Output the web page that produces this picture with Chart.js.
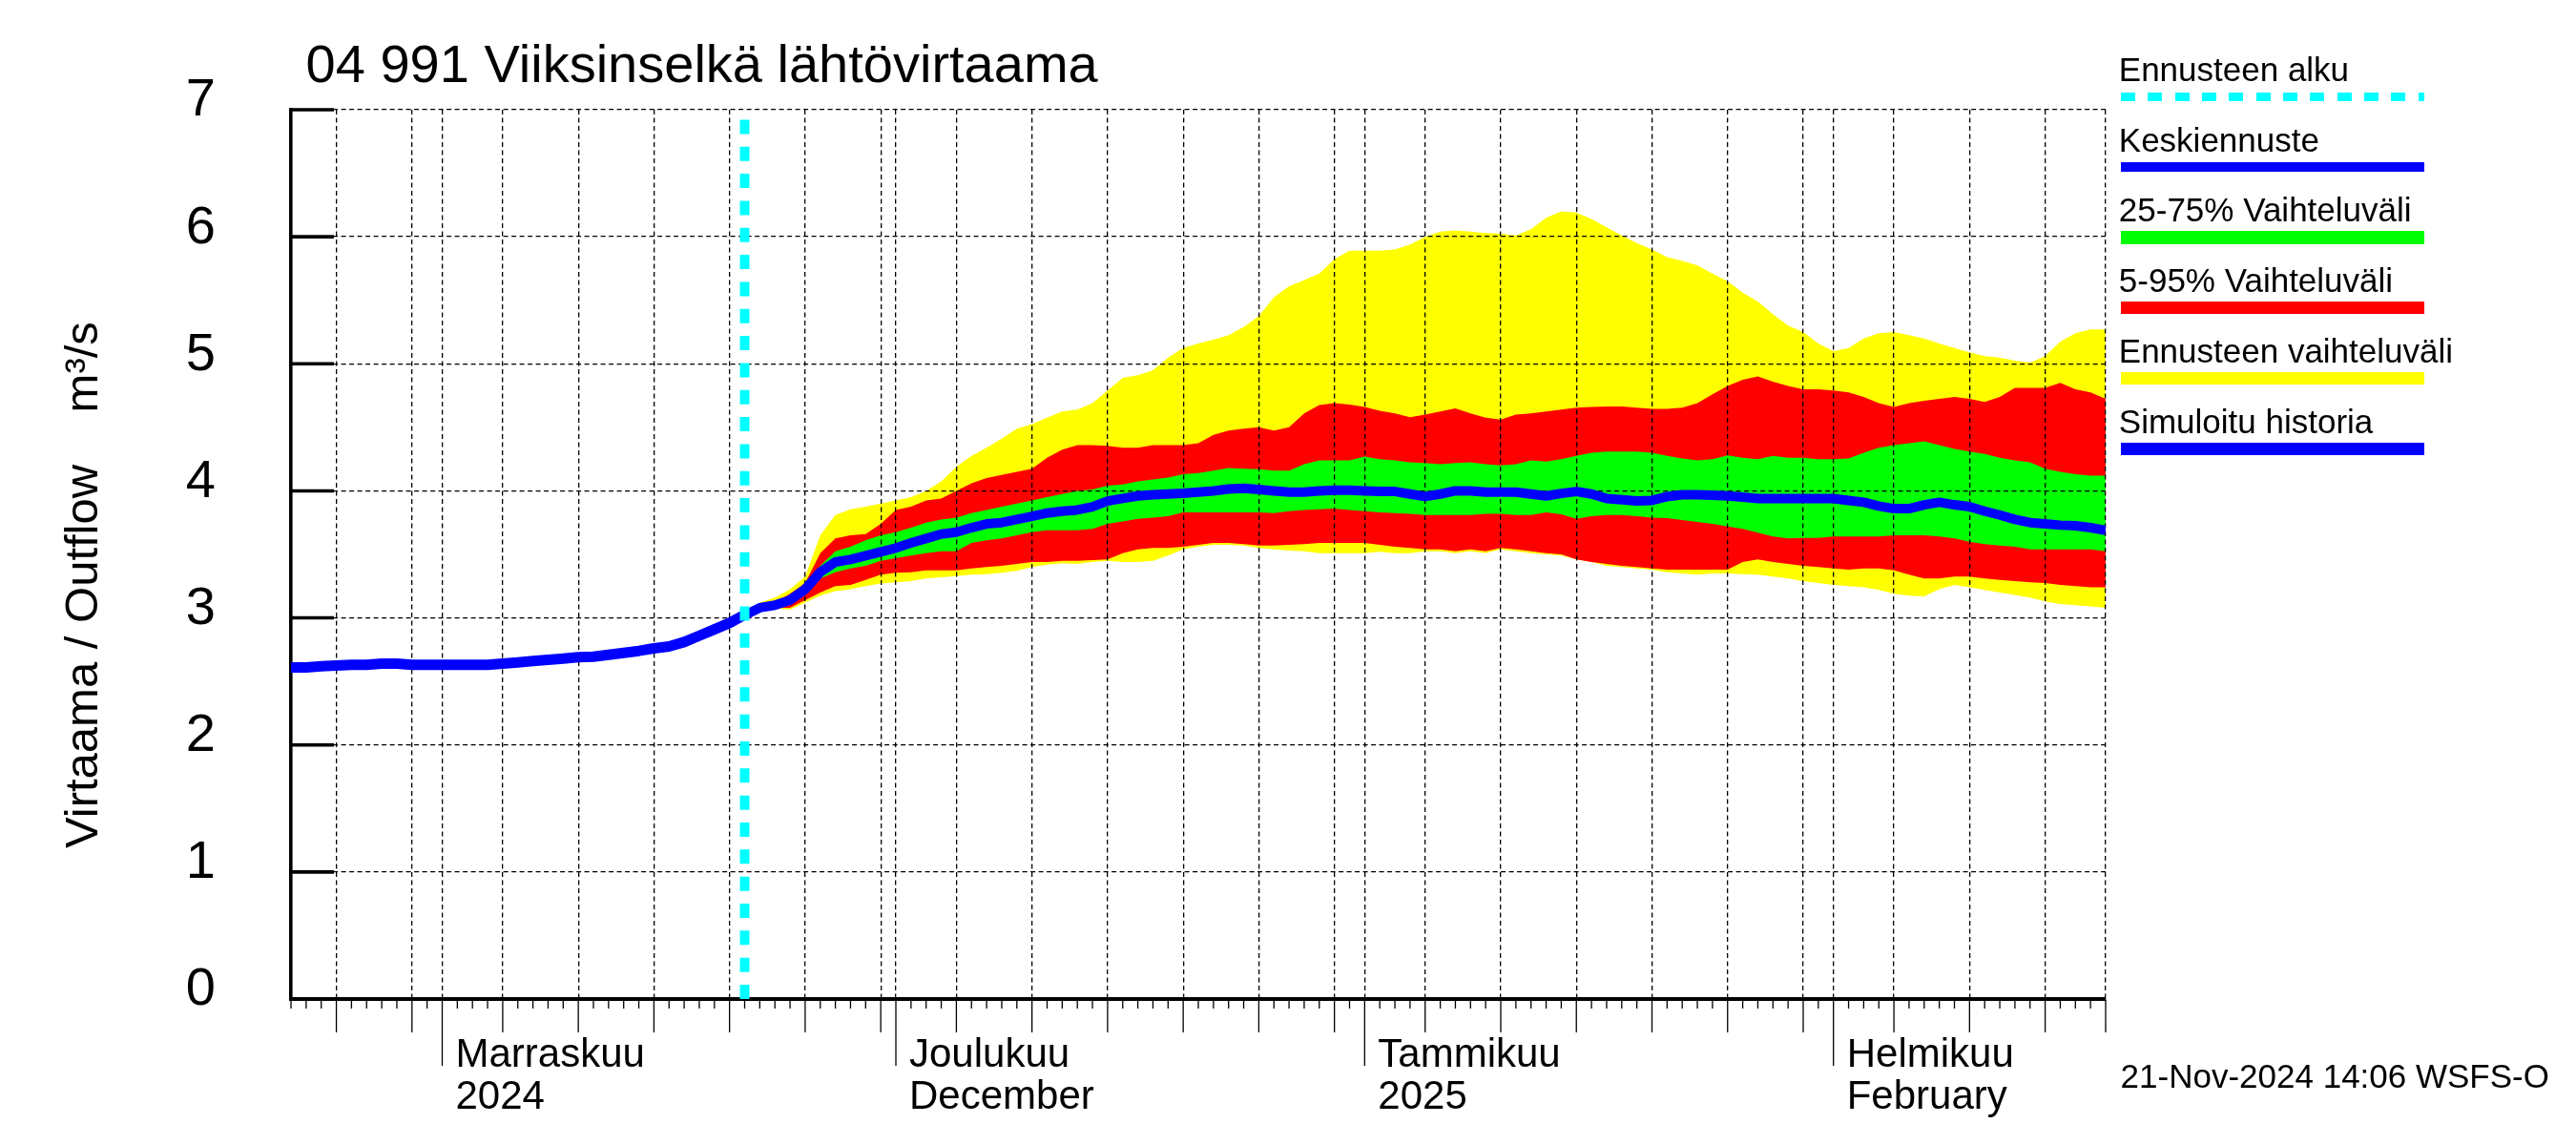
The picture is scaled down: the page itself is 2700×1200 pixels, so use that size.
<!DOCTYPE html>
<html>
<head>
<meta charset="utf-8">
<script src="https://cdn.jsdelivr.net/npm/chart.js@4.4.1/dist/chart.umd.min.js"></script>
<style>
html,body{margin:0;padding:0;background:#fff;}
#wrap{position:relative;width:2700px;height:1200px;overflow:hidden;font-family:"Liberation Sans",Arial,Helvetica,sans-serif;color:#000;background:#fff;}
#c{position:absolute;left:0;top:0;width:2700px;height:1200px;}
.t{position:absolute;white-space:pre;line-height:1;}
.lg{position:absolute;}
</style>
</head>
<body>
<div id="wrap">
<canvas id="c" width="2700" height="1200"></canvas>
</div>
<script>
// ---------------- DATA ----------------
const chartTitle = "04 991 Viiksinselkä lähtövirtaama";
const yAxisTitle = "Virtaama / Outflow    m³/s";
const footerText = "21-Nov-2024 14:06 WSFS-O";

// x axis: day number counted from 22-Oct-2024 (day 0) to 19-Feb-2025 (day 120)
const xMin = 0;
const xMax = 120;
const forecastStartDay = 30; // 21-Nov-2024
const gridDays = [3, 8, 10, 14, 19, 24, 29, 34, 39, 40, 44, 49, 54, 59, 64, 69, 71, 75, 80, 85, 90, 95, 100, 102, 106, 111, 116, 120];
const monthTickDays = [10, 40, 71, 102];
const monthTickLabels = [["Marraskuu", "2024"], ["Joulukuu", "December"], ["Tammikuu", "2025"], ["Helmikuu", "February"]];
const yTicks = [0, 1, 2, 3, 4, 5, 6, 7];

// simulated history, daily from day 0 to day 30
const histFlow = [2.61, 2.61, 2.62, 2.625, 2.63, 2.63, 2.64, 2.64, 2.63, 2.63, 2.63, 2.63, 2.63, 2.63, 2.64, 2.65, 2.66, 2.67, 2.68, 2.69, 2.695, 2.71, 2.725, 2.74, 2.76, 2.775, 2.81, 2.86, 2.91, 2.96, 3.025];

// forecast, daily from day 30 to day 120
const fcMax = [3.03, 3.12, 3.16, 3.225, 3.325, 3.65, 3.81, 3.855, 3.875, 3.9,
  3.925, 3.95, 4.0, 4.075, 4.19, 4.275, 4.34, 4.41, 4.49, 4.525,
  4.575, 4.625, 4.64, 4.69, 4.79, 4.89, 4.91, 4.95, 5.05, 5.125,
  5.16, 5.19, 5.225, 5.29, 5.375, 5.525, 5.61, 5.66, 5.71, 5.825,
  5.89, 5.89, 5.89, 5.9, 5.94, 6.0, 6.04, 6.05, 6.04, 6.03,
  6.025, 6.01, 6.06, 6.15, 6.2, 6.19, 6.14, 6.075, 6.01, 5.95,
  5.9, 5.84, 5.81, 5.775, 5.71, 5.65, 5.56, 5.49, 5.39, 5.3,
  5.25, 5.16, 5.1, 5.125, 5.2, 5.24, 5.25, 5.225, 5.2, 5.16,
  5.125, 5.09, 5.06, 5.05, 5.025, 5.01, 5.06, 5.175, 5.24, 5.27, 5.27];
const fcP95 = [3.03, 3.09, 3.12, 3.19, 3.275, 3.51, 3.625, 3.65, 3.66, 3.74,
  3.85, 3.875, 3.925, 3.94, 4.0, 4.06, 4.1, 4.125, 4.15, 4.175,
  4.26, 4.325, 4.36, 4.36, 4.355, 4.34, 4.34, 4.36, 4.36, 4.36,
  4.375, 4.44, 4.475, 4.49, 4.5, 4.475, 4.5, 4.61, 4.675, 4.69,
  4.68, 4.66, 4.63, 4.61, 4.58, 4.6, 4.625, 4.65, 4.61, 4.575,
  4.56, 4.6, 4.61, 4.625, 4.64, 4.655, 4.66, 4.665, 4.665, 4.655,
  4.645, 4.645, 4.655, 4.69, 4.76, 4.825, 4.875, 4.9, 4.86, 4.825,
  4.8, 4.8, 4.79, 4.775, 4.74, 4.69, 4.66, 4.69, 4.71, 4.725,
  4.74, 4.725, 4.7, 4.74, 4.81, 4.81, 4.81, 4.85, 4.8, 4.775, 4.725];
const fcP75 = [3.025, 3.085, 3.11, 3.16, 3.24, 3.41, 3.525, 3.56, 3.61, 3.65,
  3.675, 3.71, 3.75, 3.775, 3.79, 3.825, 3.85, 3.875, 3.9, 3.925,
  3.95, 3.975, 4.0, 4.01, 4.04, 4.05, 4.075, 4.09, 4.105, 4.13,
  4.14, 4.16, 4.18, 4.175, 4.17, 4.16, 4.16, 4.21, 4.24, 4.24,
  4.24, 4.27, 4.25, 4.24, 4.225, 4.22, 4.21, 4.22, 4.225, 4.21,
  4.2, 4.21, 4.24, 4.23, 4.25, 4.275, 4.3, 4.31, 4.31, 4.31,
  4.3, 4.275, 4.255, 4.24, 4.25, 4.28, 4.26, 4.25, 4.275, 4.26,
  4.26, 4.25, 4.25, 4.255, 4.3, 4.34, 4.36, 4.375, 4.39, 4.36,
  4.33, 4.31, 4.29, 4.26, 4.24, 4.225, 4.175, 4.15, 4.13, 4.12, 4.12];
const fcMean = [3.02, 3.08, 3.10, 3.14, 3.225, 3.36, 3.44, 3.46, 3.49, 3.52,
  3.55, 3.59, 3.625, 3.66, 3.675, 3.71, 3.74, 3.75, 3.775, 3.8,
  3.825, 3.84, 3.85, 3.875, 3.92, 3.94, 3.96, 3.97, 3.975, 3.98,
  3.99, 4.0, 4.015, 4.02, 4.01, 4.0, 3.99, 3.99, 4.0, 4.005,
  4.005, 4.0, 3.995, 3.995, 3.975, 3.955, 3.975, 4.0, 4.0, 3.99,
  3.99, 3.99, 3.975, 3.96, 3.98, 3.995, 3.975, 3.94, 3.93, 3.92,
  3.925, 3.955, 3.97, 3.97, 3.965, 3.96, 3.95, 3.94, 3.94, 3.94,
  3.94, 3.94, 3.94, 3.925, 3.91, 3.88, 3.86, 3.86, 3.89, 3.91,
  3.89, 3.875, 3.84, 3.81, 3.775, 3.75, 3.74, 3.73, 3.725, 3.71, 3.69];
const fcP25 = [3.015, 3.075, 3.095, 3.11, 3.2, 3.31, 3.36, 3.39, 3.41, 3.45,
  3.47, 3.49, 3.51, 3.525, 3.525, 3.59, 3.61, 3.625, 3.65, 3.675,
  3.69, 3.69, 3.69, 3.7, 3.74, 3.76, 3.78, 3.79, 3.8, 3.83,
  3.83, 3.83, 3.83, 3.83, 3.83, 3.825, 3.84, 3.85, 3.855, 3.86,
  3.85, 3.84, 3.83, 3.825, 3.82, 3.81, 3.81, 3.81, 3.81, 3.82,
  3.82, 3.81, 3.81, 3.83, 3.815, 3.78, 3.8, 3.81, 3.81, 3.8,
  3.79, 3.785, 3.77, 3.755, 3.74, 3.72, 3.7, 3.67, 3.64, 3.625,
  3.63, 3.63, 3.64, 3.64, 3.64, 3.64, 3.65, 3.65, 3.65, 3.64,
  3.625, 3.6, 3.58, 3.57, 3.56, 3.54, 3.54, 3.54, 3.54, 3.54, 3.525];
const fcP5 = [3.01, 3.07, 3.08, 3.08, 3.14, 3.2, 3.25, 3.26, 3.3, 3.34,
  3.355, 3.36, 3.375, 3.375, 3.375, 3.39, 3.4, 3.41, 3.425, 3.44,
  3.44, 3.45, 3.45, 3.455, 3.46, 3.51, 3.54, 3.55, 3.55, 3.56,
  3.575, 3.59, 3.59, 3.58, 3.57, 3.57, 3.575, 3.58, 3.59, 3.59,
  3.59, 3.59, 3.575, 3.56, 3.55, 3.54, 3.54, 3.525, 3.54, 3.525,
  3.55, 3.54, 3.525, 3.51, 3.5, 3.46, 3.44, 3.425, 3.41, 3.4,
  3.39, 3.38, 3.38, 3.38, 3.38, 3.38, 3.44, 3.46, 3.44, 3.425,
  3.41, 3.4, 3.39, 3.38, 3.39, 3.39, 3.375, 3.34, 3.31, 3.31,
  3.325, 3.325, 3.31, 3.3, 3.29, 3.28, 3.275, 3.26, 3.25, 3.24, 3.24];
const fcMin = [3.01, 3.06, 3.075, 3.065, 3.12, 3.175, 3.21, 3.225, 3.25, 3.27,
  3.28, 3.29, 3.31, 3.32, 3.33, 3.34, 3.345, 3.355, 3.37, 3.4,
  3.42, 3.43, 3.425, 3.44, 3.45, 3.44, 3.44, 3.45, 3.49, 3.54,
  3.56, 3.575, 3.575, 3.57, 3.55, 3.54, 3.53, 3.525, 3.51, 3.51,
  3.51, 3.51, 3.52, 3.51, 3.51, 3.525, 3.525, 3.51, 3.525, 3.51,
  3.54, 3.525, 3.51, 3.5, 3.49, 3.46, 3.44, 3.41, 3.4, 3.39,
  3.38, 3.36, 3.35, 3.34, 3.35, 3.35, 3.345, 3.34, 3.325, 3.31,
  3.29, 3.275, 3.26, 3.25, 3.24, 3.22, 3.19, 3.175, 3.17, 3.225,
  3.26, 3.24, 3.22, 3.2, 3.18, 3.16, 3.13, 3.11, 3.1, 3.09, 3.08];

const legendLabels = ["Ennusteen alku", "Keskiennuste", "25-75% Vaihteluväli", "5-95% Vaihteluväli", "Ennusteen vaihteluväli", "Simuloitu historia"];
const legendColors = ["#00ffff", "#0000ff", "#00ff00", "#ff0000", "#ffff00", "#0000ff"];

// ---------------- RENDER ----------------
const FONT = '"Liberation Sans", Arial, Helvetica, sans-serif';
const pts = (start, arr) => arr.map((v, i) => ({x: start + i, y: v}));
const clear = 'rgba(0,0,0,0)';

const wrap = document.getElementById('wrap');
function addText(txt, left, top, size, extra) {
  const d = document.createElement('div');
  d.className = 't';
  d.textContent = txt;
  d.style.left = left + 'px';
  d.style.top = top + 'px';
  d.style.fontSize = size + 'px';
  if (extra) Object.assign(d.style, extra);
  wrap.appendChild(d);
  return d;
}
addText(chartTitle, 320.6, 86.7 - 0.8465 * 56, 56);
addText(footerText, 2222.6, 1140 - 0.8465 * 35, 35);
addText(yAxisTitle, 102 - 0.8465 * 49, 889, 49, {transform: 'rotate(-90deg)', transformOrigin: '0 0'});
const lgThick = [9, 9.6, 13.7, 13, 13.4, 13.4];
legendLabels.forEach((lab, i) => {
  const step = 73.9;
  addText(lab, 2220.8, 84.3 + step * i - 0.8465 * 35, 35);
  const ln = document.createElement('div');
  ln.className = 'lg';
  const cy = 101.2 + step * i;
  ln.style.left = '2223px';
  ln.style.width = '318px';
  ln.style.top = (cy - lgThick[i] / 2) + 'px';
  ln.style.height = lgThick[i] + 'px';
  if (i === 0) {
    ln.style.background = 'repeating-linear-gradient(to right, ' + legendColors[i] + ' 0px, ' + legendColors[i] + ' 15px, transparent 15px, transparent 28.33px)';
  } else {
    ln.style.background = legendColors[i];
  }
  wrap.appendChild(ln);
});

const decor = {
  id: 'decor',
  afterDraw(chart) {
    const {ctx, chartArea: a, scales: {x, y}} = chart;
    ctx.save();
    ctx.strokeStyle = '#000';
    ctx.setLineDash([]);
    ctx.lineWidth = 3.6;
    yTicks.forEach(v => {
      const py = y.getPixelForValue(v);
      ctx.beginPath();
      ctx.moveTo(a.left - 1.8, py);
      ctx.lineTo(a.left + 45, py);
      ctx.stroke();
    });
    ctx.lineWidth = 1.3;
    for (let d = xMin; d <= xMax; d++) {
      const px = x.getPixelForValue(d);
      let len = 10;
      if (monthTickDays.includes(d)) len = 70;
      else if (gridDays.includes(d)) len = 35;
      ctx.beginPath();
      ctx.moveTo(px, a.bottom + 1);
      ctx.lineTo(px, a.bottom + len);
      ctx.stroke();
    }
    ctx.restore();
  }
};

const band = (data, fill, color, order) => ({
  data, fill, backgroundColor: color || clear, borderColor: clear, borderWidth: 0,
  pointRadius: 0, order, tension: 0
});

new Chart(document.getElementById('c'), {
  type: 'line',
  data: {
    datasets: [
      {data: [{x: forecastStartDay, y: yTicks[0]}, {x: forecastStartDay, y: yTicks[yTicks.length - 1]}], borderColor: '#00ffff', borderWidth: 10, borderDash: [15, 13.33], pointRadius: 0, fill: false, order: 0},
      {data: pts(xMin, histFlow), borderColor: '#0000ff', borderWidth: 11, pointRadius: 0, fill: false, order: 1, borderJoinStyle: 'round'},
      {data: pts(forecastStartDay, fcMean), borderColor: '#0000ff', borderWidth: 10, pointRadius: 0, fill: false, order: 1, borderJoinStyle: 'round'},
      band(pts(forecastStartDay, fcMax), false, null, 5),
      band(pts(forecastStartDay, fcMin), 3, '#ffff00', 5),
      band(pts(forecastStartDay, fcP95), false, null, 4),
      band(pts(forecastStartDay, fcP5), 5, '#ff0000', 4),
      band(pts(forecastStartDay, fcP75), false, null, 3),
      band(pts(forecastStartDay, fcP25), 7, '#00ff00', 3)
    ]
  },
  options: {
    responsive: false,
    devicePixelRatio: 1,
    animation: false,
    events: [],
    layout: {padding: {left: 0, top: 115, right: 493, bottom: 0}},
    plugins: {
      legend: {display: false},
      title: {display: false},
      tooltip: {enabled: false},
      filler: {drawTime: 'beforeDraw'}
    },
    scales: {
      x: {
        type: 'linear', min: xMin, max: xMax,
        afterBuildTicks: s => { s.ticks = gridDays.map(v => ({value: v})); },
        afterFit: s => { s.height = 153; },
        grid: {color: '#000', lineWidth: 1.3, drawTicks: false},
        border: {display: true, color: '#000', width: 4, dash: [5, 3.5]},
        ticks: {
          autoSkip: false, maxRotation: 0, minRotation: 0, align: 'start',
          labelOffset: 14, padding: 37, color: '#000',
          font: {family: FONT, size: 42, lineHeight: 1.062},
          callback: v => { const i = monthTickDays.indexOf(v); return i >= 0 ? monthTickLabels[i] : ''; }
        }
      },
      y: {
        type: 'linear', min: yTicks[0], max: yTicks[yTicks.length - 1],
        afterBuildTicks: s => { s.ticks = yTicks.map(v => ({value: v})); },
        afterFit: s => { s.width = 305; },
        grid: {color: '#000', lineWidth: 1.3, drawTicks: false},
        border: {display: true, color: '#000', width: 3.6, dash: [5, 3.5]},
        ticks: {padding: 79, labelOffset: -9, color: '#000', font: {family: FONT, size: 56}}
      }
    }
  },
  plugins: [decor]
});
</script>
</body>
</html>
